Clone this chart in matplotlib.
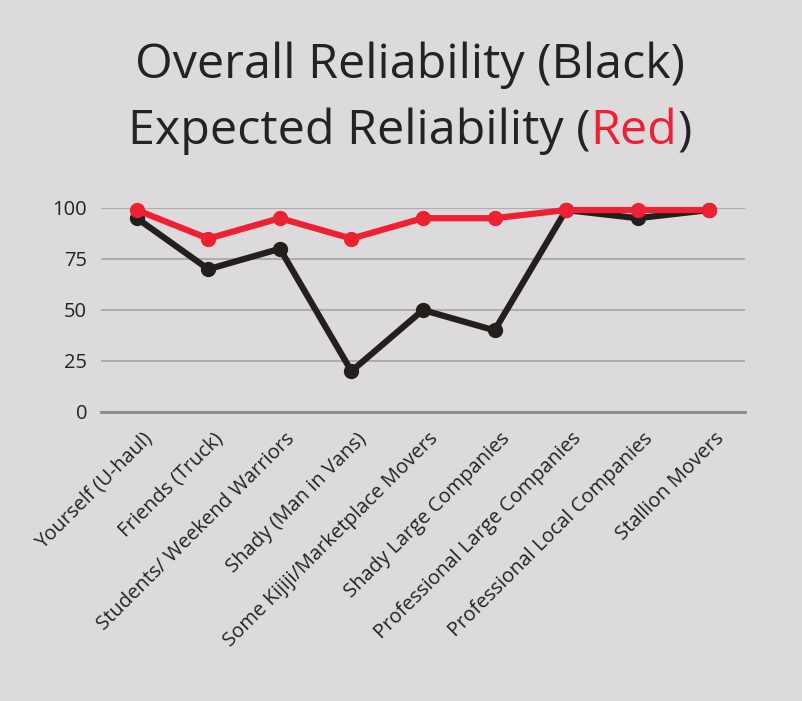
import matplotlib.pyplot as plt
import matplotlib.transforms as mtransforms

plt.rcParams['font.family'] = ['Open Sans', 'DejaVu Sans']

categories = ['Yourself (U-haul)', 'Friends (Truck)', 'Students/ Weekend Warriors',
              'Shady (Man in Vans)', 'Some Kijiji/Marketplace Movers', 'Shady Large Companies',
              'Professional Large Companies', 'Professional Local Companies', 'Stallion Movers']
overall = [95, 70, 80, 20, 50, 40, 99, 95, 99]
expected = [99, 85, 95, 85, 95, 95, 99, 99, 99]
yticks = [0, 25, 50, 75, 100]

bg = '#dcdadb'
txt = '#232323'
red = '#ee2034'

fig = plt.figure(figsize=(8.03, 7.01), dpi=100, facecolor=bg)
ax = fig.add_axes([0.1258, 0.4123, 0.802, 0.291])
ax.set_facecolor(bg)

x = list(range(len(categories)))
ax.plot(x, overall, color='#221f1c', linewidth=4.5, marker='o', markersize=10,
        clip_on=False, zorder=3)
ax.plot(x, expected, color=red, linewidth=4.5, marker='o', markersize=10,
        clip_on=False, zorder=4)

ax.set_xlim(-0.5, len(categories) - 0.5)
ax.set_ylim(0, 100)
ax.set_yticks(yticks)
ax.yaxis.grid(True, color='#aeacad', linewidth=1.5)
ax.set_axisbelow(True)
for s in ['top', 'right', 'left']:
    ax.spines[s].set_visible(False)
ax.spines['bottom'].set_color('#8a8889')
ax.spines['bottom'].set_linewidth(2)
ax.tick_params(axis='both', length=0, labelsize=14.5, labelcolor=txt)
ax.tick_params(axis='y', pad=10)
ax.set_xticks(x)
ax.set_xticklabels(categories, rotation=45, ha='right', va='top', rotation_mode='anchor')
off = mtransforms.ScaledTranslation(5 / 100, -12 / 100, fig.dpi_scale_trans)
for lab in ax.get_xticklabels():
    lab.set_transform(lab.get_transform() + off)

# title, second line has a red word
cx = 410 / 803
fig.text(cx, 1 - 78 / 701, 'Overall Reliability (Black)', ha='center', va='baseline',
         fontsize=34.8, color=txt)
parts = [('Expected Reliability (', txt), ('Red', red), (')', txt)]
renderer = fig.canvas.get_renderer()
texts = []
for s, c in parts:
    t = fig.text(0, 1 - 144 / 701, s, ha='left', va='baseline', fontsize=34.8, color=c)
    texts.append(t)
widths = [t.get_window_extent(renderer).width for t in texts]
total = sum(widths)
xpos = cx * fig.bbox.width - total / 2
for t, w in zip(texts, widths):
    t.set_x(xpos / fig.bbox.width)
    xpos += w

fig.savefig('out.png', dpi=100, facecolor=bg)
